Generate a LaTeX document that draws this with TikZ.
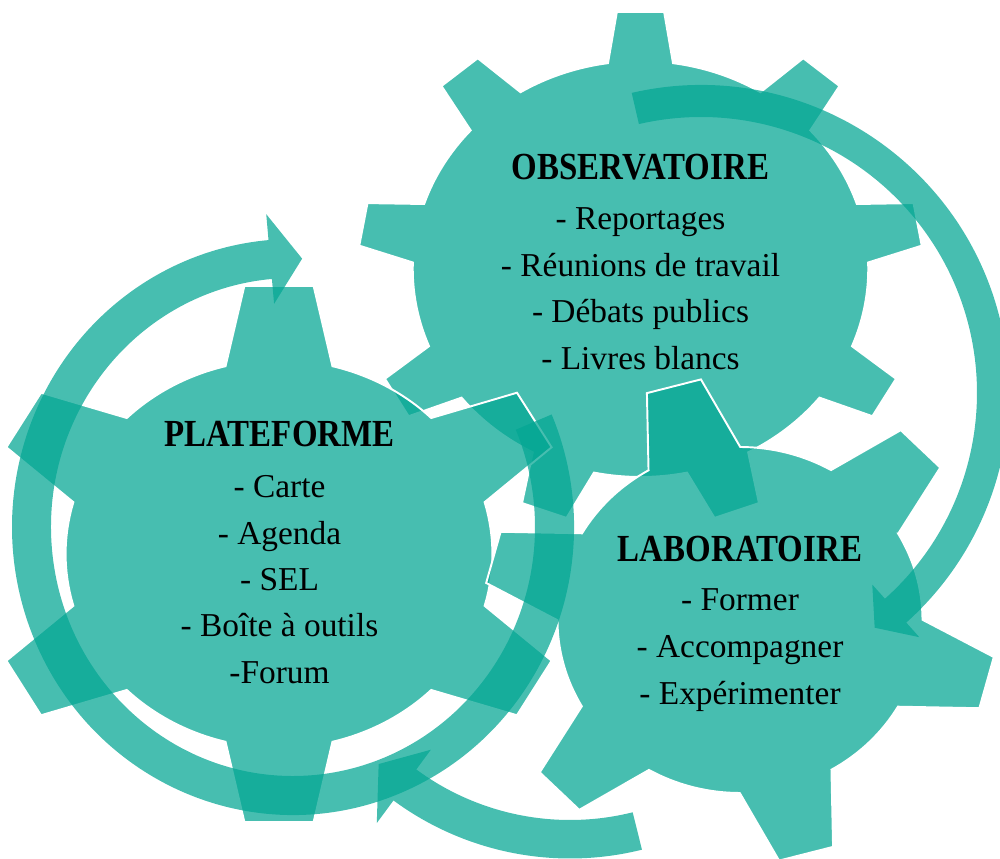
\documentclass[tikz,border=0pt]{standalone}
\usepackage{fontspec}
\setmainfont{Liberation Serif}
\newfontfamily\titlefont{Liberation Serif}[FakeStretch=0.86]
\usepackage{tikz}
\usetikzlibrary{calc}
\usepackage{xcolor}
\definecolor{gearteal}{HTML}{03A693}

% gear outline: teeth, first tooth angle, body r, tip r, base half width, tip half width
\newcommand{\gearoutline}[6]{%
  \pgfmathsetmacro\gstep{360/#1}%
  \pgfmathsetmacro\gbase{asin(#5/#3)}%
  \pgfmathsetmacro\gtip{atan(#6/#4)}%
  \pgfmathsetmacro\gtipr{100*sqrt((#4/100)^2+(#6/100)^2)}%
  \filldraw[gear] ({#2-\gbase}:#3)
    \foreach \k in {1,...,#1}{
      -- ({#2+(\k-1)*\gstep-\gtip}:\gtipr)
      -- ({#2+(\k-1)*\gstep+\gtip}:\gtipr)
      -- ({#2+(\k-1)*\gstep+\gbase}:#3)
      arc[start angle={#2+(\k-1)*\gstep+\gbase}, end angle={#2+\k*\gstep-\gbase}, radius=#3]
    } -- cycle;%
}

\begin{document}
\begin{tikzpicture}[x=0.1mm, y=0.1mm,
  gear/.style={fill=gearteal, fill opacity=0.73, draw=white, line width=0.55pt},
  band/.style={fill=gearteal, fill opacity=0.73},
  title/.style={anchor=base, font=\titlefont\bfseries\fontsize{10.9}{13}\selectfont},
  item/.style={anchor=base, font=\fontsize{9.5}{12}\selectfont}]

\useasboundingbox (0,0) rectangle (1000,859);

\coordinate (obs) at (640.5,590);
\coordinate (plat) at (279,305);
\coordinate (lab) at (740,239);

% gears
\begin{scope}[shift={(obs)}, xscale=1.095]
  \gearoutline{9}{90}{208}{257}{29.7}{21.6}
\end{scope}
\begin{scope}[shift={(plat)}, xscale=1.10]
  \gearoutline{6}{30}{194}{268}{48.6}{31.5}
\end{scope}
\begin{scope}[shift={(lab)}, xscale=1.055]
  \gearoutline{6}{45}{173}{242}{45}{26.5}
\end{scope}

% circular arrows
\begin{scope}[shift={(293,332)}]
\fill[band] (23:281 and 288) arc[start angle=23, end angle=-265, x radius=281, y radius=288]
  -- (-265:307 and 314) -- (-272:261.5 and 268.5) -- (-265:217 and 224) -- (-265:242 and 249)
  arc[start angle=-265, end angle=23, x radius=242, y radius=249] -- cycle;
\end{scope}

\begin{scope}[shift={(701,466)}]
\fill[band] (103:308) arc[start angle=103, end angle=-48.2, radius=308]
  -- (-48.2:327.6) -- (-53.5:292) -- (-48.2:257) -- (-48.2:276)
  arc[start angle=-48.2, end angle=103, radius=276] -- cycle;
\end{scope}

\begin{scope}[shift={(570,298)}]
\fill[band] (-76:297.5) arc[start angle=-76, end angle=-126.4, radius=297.5]
  -- (-126.4:325.6) -- (-133.3:279) -- (-126.4:234.5) -- (-126.4:259)
  arc[start angle=-126.4, end angle=-76, radius=259] -- cycle;
\end{scope}

% texts
\node[title] (obstitle) at (640.5,679.7) {OBSERVATOIRE};
\foreach \txt [count=\i] in {- Reportages, - Réunions de travail, - Débats publics, - Livres blancs}
  \node[item] (obsitem\i) at (640.5,{629-46.4*(\i-1)}) {\txt};

\node[title] (plattitle) at (279.5,412.3) {PLATEFORME};
\foreach \txt [count=\i] in {- Carte, - Agenda, - SEL, - Boîte à outils, -Forum}
  \node[item] (platitem\i) at (279.5,{361.3-46.4*(\i-1)}) {\txt};

\node[title] (labtitle) at (740,297.3) {LABORATOIRE};
\foreach \txt [count=\i] in {- Former, - Accompagner, - Expérimenter}
  \node[item] (labitem\i) at (740,{248-47*(\i-1)}) {\txt};

\end{tikzpicture}
\end{document}
